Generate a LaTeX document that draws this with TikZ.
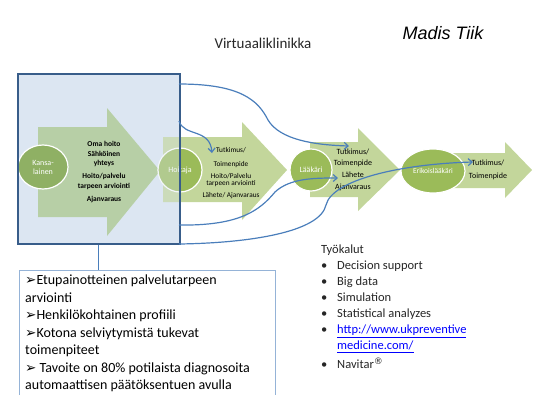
\documentclass[tikz,border=0pt]{standalone}
\usepackage{fontspec}
\setmainfont{Carlito}
\newfontfamily\arialfont{Liberation Sans}
\newfontfamily\symfont{DejaVu Sans}
\usetikzlibrary{arrows.meta,shapes.geometric}
\definecolor{arrowgreen}{HTML}{C3D69B}
\definecolor{firstgreen}{HTML}{B7CFA6}
\definecolor{circgreen}{HTML}{9BBB59}
\definecolor{kansgreen}{HTML}{8FB064}
\definecolor{rectfill}{HTML}{DCE6F2}
\definecolor{rectline}{HTML}{385D8A}
\definecolor{curveblue}{HTML}{4A7EBB}
\definecolor{boxline}{HTML}{95B3D7}
\newcommand{\arr}{{\symfont\fontsize{13.5}{13.5}\selectfont ➢}}
\tikzset{
  phase/.style={circle, fill=circgreen, draw=white, line width=1.2pt, text=white,
    font=\fontsize{8}{9}\selectfont, inner sep=0pt, align=center},
  flow/.style={draw=curveblue, line width=1.2pt, -{Straight Barb[length=4pt,width=7pt]}},
  steptext/.style={font=\fontsize{8}{11.7}\selectfont, align=center, inner sep=0pt},
}
\begin{document}
\begin{tikzpicture}[x=1pt,y=-1pt]
  \useasboundingbox (0,0) rectangle (544,408);
  % titles
  \node[font=\fontsize{15}{17}\selectfont, text=black!85] (title) at (263,43) {Virtuaaliklinikka};
  \node[font=\arialfont\itshape\fontsize{18}{20}\selectfont] (author) at (443,33) {Madis Tiik};
  % virtual clinic area
  \fill[rectfill] (17,73) rectangle (179,243);
  \fill[firstgreen] (38,127) -- (107,127) -- (107,108) -- (160,171) -- (107,236)
    -- (107,217) -- (38,217) -- cycle;
  \fill[arrowgreen] (163,137) -- (242,137) -- (242,122) -- (287,170) -- (242,220)
    -- (242,202) -- (163,202) -- cycle;
  \fill[arrowgreen] (310,142) -- (358,142) -- (358,128) -- (400,170) -- (358,211)
    -- (358,197) -- (310,197) -- cycle;
  \fill[arrowgreen] (453,153) -- (505,153) -- (505,142) -- (532,170) -- (505,198)
    -- (505,188) -- (453,188) -- cycle;
  % actors
  \node[phase, ellipse, fill=kansgreen, minimum width=50pt, minimum height=44pt] (kans) at (43,167) {Kansa-\\lainen};
  \node[phase, minimum size=44pt] (hoit) at (180,170) {Hoitaja};
  \node[phase, minimum size=42pt] (laak) at (311,170) {Lääkäri};
  \node[phase, ellipse, minimum width=64pt, minimum height=44pt, font=\fontsize{7.5}{8}\selectfont] (erik) at (433,171) {Erikoislääkäri};
  \fill[rectfill, opacity=0.35] (158,137) rectangle (179,220);
  \node[draw=rectline, line width=1.5pt, minimum width=162pt, minimum height=170pt,
    anchor=north west, inner sep=0pt] (vk) at (17,73) {};
  % texts in the arrows
  \node[font=\bfseries\fontsize{7.5}{9.6}\selectfont, align=center, inner sep=0pt] (kanstxt) at (104,172)
    {Oma hoito\\Sähköinen\\yhteys\\[3.5pt]Hoito/palvelu\\tarpeen arviointi\\[3.5pt]Ajanvaraus};
  \node[font=\fontsize{7.3}{7.5}\selectfont, align=center, inner sep=0pt] (hoittxt) at (231,173)
    {Tutkimus/\\[7pt]Toimenpide\\[4pt]Hoito/Palvelu\\tarpeen arviointi\\[4pt]Lähete/ Ajanvaraus};
  \node[steptext] (laaktxt) at (353,169.5) {Tutkimus/\\Toimenpide\\Lähete\\Ajanvaraus};
  \node[steptext, font=\fontsize{8}{13}\selectfont] (eriktxt) at (488,169.5) {Tutkimus/\\Toimenpide};
  % curves
  \coordinate (c1) at (179,84);
  \coordinate (c2) at (179,121);
  \coordinate (c3) at (179,225);
  \coordinate (c4) at (179,244);
  \coordinate (e1) at (349,146);
  \coordinate (e2) at (212,153);
  \coordinate (e3) at (338,178);
  \coordinate (e4) at (473,162);
  \draw[flow] (c1) .. controls (240,84) and (258,100) .. (268,120)
    .. controls (280,140) and (315,145) .. (e1);
  \draw[flow] (c2) .. controls (184,137) and (210,128) .. (e2);
  \draw[flow] (c3) .. controls (240,226) and (260,210) .. (275,192)
    .. controls (290,178) and (315,178) .. (e3);
  \draw[flow] (c4) .. controls (250,243) and (320,232) .. (326,205)
    .. controls (332,180) and (400,164) .. (e4);
  % goals box
  \coordinate (boxtop) at (98,270);
  \draw[curveblue, line width=1pt] (vk.south -| boxtop) -- (boxtop);
  \draw[boxline, line width=0.8pt] (19,395) -- (19,270) -- (275,270) -- (275,395);
  \node[anchor=north west, inner sep=0pt, align=left, font=\fontsize{14}{17.5}\selectfont] (goals) at (25,275)
    {\arr Etupainotteinen palvelutarpeen\\arviointi\\\arr Henkilökohtainen profiili\\
     \arr Kotona selviytymistä tukevat\\toimenpiteet\\\arr{} Tavoite on 80\% potilaista diagnosoita\\
     automaattisen päätöksentuen avulla};
  % tools
  \node[anchor=north west, inner sep=0pt, align=left, text=black!85, font=\fontsize{12.5}{16}\selectfont] (tools) at (321,245)
    {Työkalut\\
     \makebox[16pt][l]{\textbullet}Decision support\\
     \makebox[16pt][l]{\textbullet}Big data\\
     \makebox[16pt][l]{\textbullet}Simulation\\
     \makebox[16pt][l]{\textbullet}Statistical analyzes\\
     \makebox[16pt][l]{\textbullet}\textcolor{blue}{\underline{http://www.ukpreventive}}\\
     \hspace*{16pt}\textcolor{blue}{\underline{medicine.com/}}\\[3pt]
     \makebox[16pt][l]{\textbullet}Navitar\raisebox{4pt}{\symfont\fontsize{9}{9}\selectfont ®}};
\end{tikzpicture}
\end{document}
